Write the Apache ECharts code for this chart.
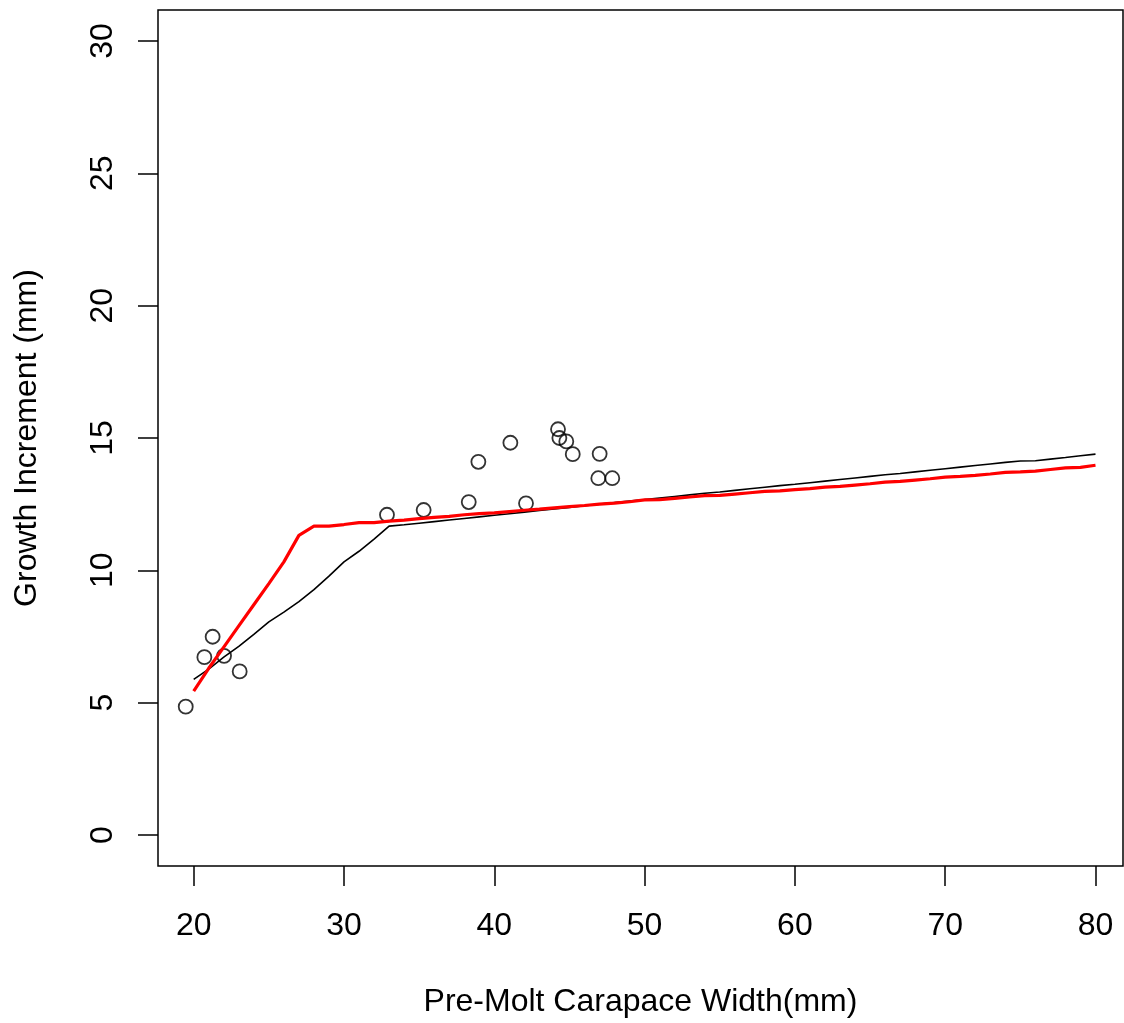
<!DOCTYPE html>
<html>
<head>
<meta charset="utf-8">
<script src="https://cdn.jsdelivr.net/npm/echarts@6/dist/echarts.min.js"></script>
<style>
html,body{margin:0;padding:0;background:#fff;}
#chart{width:1124px;height:1023px;}
</style>
</head>
<body>
<div id="chart"></div>
<script>
// Observed data (pre-molt width, growth increment)
const obsWidth = [19.47, 20.71, 21.26, 22.02, 23.06, 32.86, 35.30, 38.30, 38.94, 41.07, 42.11, 44.24, 44.33, 44.79, 45.22, 47.01, 46.92, 47.85];
const obsGrowth = [4.85, 6.72, 7.49, 6.77, 6.18, 12.10, 12.28, 12.58, 14.10, 14.82, 12.53, 15.33, 15.00, 14.87, 14.39, 14.40, 13.48, 13.48];

// Fitted curves evaluated at integer widths
const fitWidth = [20,21,22,23,24,25,26,27,28,29,30,31,32,33,34,35,36,37,38,39,40,41,42,43,44,45,46,47,48,49,50,51,52,53,54,55,56,57,58,59,60,61,62,63,64,65,66,67,68,69,70,71,72,73,74,75,76,77,78,79,80];
const blackFit = [5.88,6.27,6.72,7.13,7.58,8.05,8.42,8.82,9.27,9.78,10.32,10.72,11.18,11.67,11.72,11.78,11.84,11.90,11.96,12.02,12.08,12.14,12.20,12.26,12.32,12.38,12.44,12.50,12.56,12.62,12.67,12.73,12.79,12.85,12.91,12.96,13.02,13.08,13.14,13.20,13.25,13.31,13.37,13.43,13.49,13.55,13.61,13.66,13.72,13.78,13.84,13.90,13.96,14.02,14.08,14.13,14.14,14.20,14.26,14.33,14.39];
const redFit = [5.44,6.30,7.10,7.90,8.70,9.50,10.32,11.32,11.67,11.67,11.73,11.80,11.80,11.86,11.90,11.95,12.00,12.04,12.10,12.14,12.17,12.22,12.27,12.31,12.36,12.41,12.45,12.50,12.54,12.59,12.66,12.67,12.72,12.77,12.82,12.83,12.88,12.93,12.98,13.00,13.05,13.09,13.14,13.17,13.22,13.27,13.33,13.36,13.41,13.46,13.52,13.55,13.59,13.64,13.70,13.72,13.75,13.81,13.87,13.89,13.97];

const xTicks = [20, 30, 40, 50, 60, 70, 80];
const yTicks = [0, 5, 10, 15, 20, 25, 30];

const font = "'Liberation Sans', Arial, sans-serif";
const chart = echarts.init(document.getElementById('chart'), null, {renderer: 'canvas'});

const obsData = obsWidth.map((x, i) => [x, obsGrowth[i]]);
const blackData = fitWidth.map((x, i) => [x, blackFit[i]]);
const redData = fitWidth.map((x, i) => [x, redFit[i]]);

chart.setOption({
  backgroundColor: '#ffffff',
  animation: false,
  grid: {
    left: 158, top: 10, width: 965, height: 856,
    show: true, borderColor: '#000', borderWidth: 1.5, backgroundColor: 'transparent'
  },
  xAxis: {
    type: 'value', min: 17.625, max: 81.83,
    name: 'Pre-Molt Carapace Width(mm)', nameLocation: 'middle', nameGap: 120,
    nameTextStyle: {fontFamily: font, fontSize: 32, color: '#000'},
    axisLine: {show: false, onZero: false},
    splitLine: {show: false},
    axisTick: {show: true, inside: false, length: 20, customValues: xTicks, lineStyle: {color: '#000', width: 1.5}},
    axisLabel: {show: true, customValues: xTicks, margin: 44, fontFamily: font, fontSize: 32, color: '#000'}
  },
  yAxis: {
    type: 'value', min: -1.171, max: 31.17,
    name: 'Growth Increment (mm)', nameLocation: 'middle', nameGap: 115, nameRotate: 90,
    nameTextStyle: {fontFamily: font, fontSize: 32, color: '#000'},
    axisLine: {show: false, onZero: false},
    splitLine: {show: false},
    axisTick: {show: true, inside: false, length: 20, customValues: yTicks, lineStyle: {color: '#000', width: 1.5}},
    axisLabel: {show: true, customValues: yTicks, rotate: 90, margin: 39, fontFamily: font, fontSize: 32, color: '#000'}
  },
  series: [
    {
      type: 'scatter', data: obsData, symbol: 'circle', symbolSize: 14,
      itemStyle: {color: 'rgba(255,255,255,0)', borderColor: '#000', borderWidth: 1.8},
      z: 2
    },
    {
      type: 'line', data: blackData, showSymbol: false, symbol: 'none',
      lineStyle: {color: '#000', width: 1.6}, z: 3
    },
    {
      type: 'line', data: redData, showSymbol: false, symbol: 'none',
      lineStyle: {color: '#ff0000', width: 3.2}, z: 4
    }
  ]
});
</script>
</body>
</html>
